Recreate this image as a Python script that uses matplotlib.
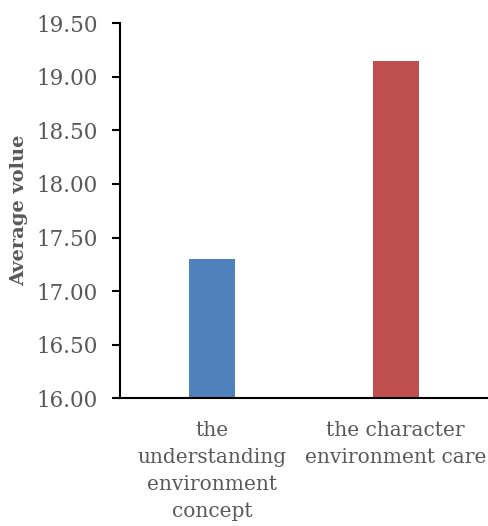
import numpy as np
import matplotlib.pyplot as plt

categories = ['the\nunderstanding\nenvironment\nconcept', 'the character\nenvironment care']
values = [17.30, 19.15]
colors = ['#4f81bd', '#c0504d']
yticks = np.arange(16.0, 19.51, 0.5)

plt.rcParams['font.family'] = ['DejaVu Serif']
grey = '#595959'

fig = plt.figure(figsize=(4.89, 5.26), dpi=100)
ax = fig.add_axes([0.2454, 0.2428, 0.752, 0.713])

x = np.arange(len(categories))
ax.bar(x, values, width=0.25, color=colors, zorder=2)

ax.set_xlim(-0.5, 1.5)
ax.set_ylim(16.0, 19.5)
ax.set_yticks(yticks)
ax.set_yticklabels([f'{v:.2f}' for v in yticks], color=grey, fontsize=15.5)
ax.set_xticks(x)
ax.set_xticklabels(categories, color=grey, fontsize=14.5, linespacing=1.55)
ax.tick_params(axis='x', length=0, pad=16)
ax.tick_params(axis='y', length=6, width=1.5, pad=10)

ax.set_ylabel('Average volue', color=grey, fontsize=14, fontweight='bold')
ax.yaxis.set_label_coords(-0.25, 0.5)

for side in ['top', 'right']:
    ax.spines[side].set_visible(False)
ax.spines['left'].set_linewidth(1.5)
ax.spines['bottom'].set_linewidth(1.5)

fig.savefig('out.png', dpi=100)
